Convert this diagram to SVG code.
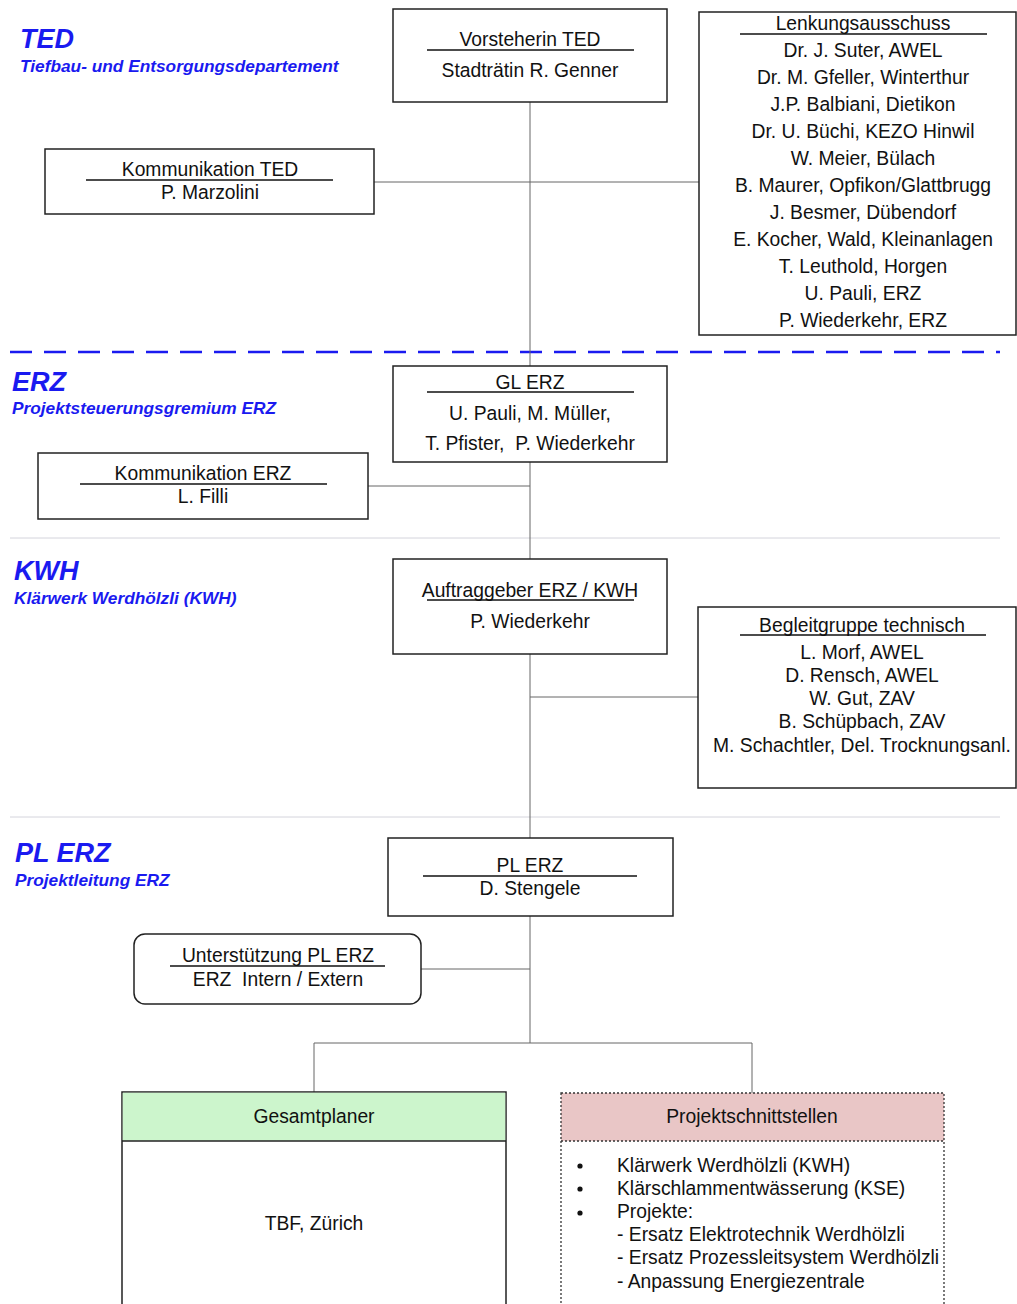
<svg xmlns="http://www.w3.org/2000/svg" width="1017" height="1304" viewBox="0 0 1017 1304">
<style>
.t{font-family:"Liberation Sans",Arial,sans-serif;font-size:19.3px;fill:#111;text-anchor:middle;white-space:pre}
.tl{font-family:"Liberation Sans",Arial,sans-serif;font-size:19.3px;fill:#111}
.h{font-family:"Liberation Sans",Arial,sans-serif;font-weight:bold;font-style:italic;font-size:27px;fill:#1a1af0}
.s{font-family:"Liberation Sans",Arial,sans-serif;font-weight:bold;font-style:italic;font-size:17.3px;fill:#1a1af0}
.box{fill:#fff;stroke:#222;stroke-width:1.5}
.ul{stroke:#111;stroke-width:1.3}
.c{stroke:#666;stroke-width:1;fill:none}
.sep{stroke:#d4d4dc;stroke-width:1}
</style>
<rect width="1017" height="1304" fill="#fff"/>
<g id="sections">
<text class="h" x="20" y="48">TED</text>
<text class="s" x="20" y="72">Tiefbau- und Entsorgungsdepartement</text>
<line x1="10" y1="352" x2="1000" y2="352" stroke="#1a1af0" stroke-width="2.5" stroke-dasharray="22 12"/>
<text class="h" x="12" y="391">ERZ</text>
<text class="s" x="12" y="414">Projektsteuerungsgremium ERZ</text>
<line class="sep" x1="10" y1="538" x2="1000" y2="538"/>
<text class="h" x="14" y="580">KWH</text>
<text class="s" x="14" y="604">Klärwerk Werdhölzli (KWH)</text>
<line class="sep" x1="10" y1="817" x2="1000" y2="817"/>
<text class="h" x="15" y="862">PL ERZ</text>
<text class="s" x="15" y="886">Projektleitung ERZ</text>
</g>
<g id="connectors">
<line class="c" x1="530" y1="102" x2="530" y2="1043"/>
<line class="c" x1="374" y1="182" x2="699" y2="182"/>
<line class="c" x1="368" y1="486" x2="530" y2="486"/>
<line class="c" x1="530" y1="697" x2="698" y2="697"/>
<line class="c" x1="421" y1="969" x2="530" y2="969"/>
<polyline class="c" points="314,1092 314,1043 752,1043 752,1093"/>
</g>
<g id="vorsteherin">
<rect class="box" x="393" y="9" width="274" height="93"/>
<text class="t" x="530" y="46">Vorsteherin TED</text>
<line class="ul" x1="427" y1="50" x2="634" y2="50"/>
<text class="t" x="530" y="77">Stadträtin R. Genner</text>
</g>
<g id="lenkungsausschuss">
<rect class="box" x="699" y="12" width="317" height="323"/>
<text class="t" x="863" y="30">Lenkungsausschuss</text>
<line class="ul" x1="740" y1="34" x2="987" y2="34"/>
<text class="t" x="863" y="57">Dr. J. Suter, AWEL</text>
<text class="t" x="863" y="84">Dr. M. Gfeller, Winterthur</text>
<text class="t" x="863" y="111">J.P. Balbiani, Dietikon</text>
<text class="t" x="863" y="138">Dr. U. Büchi, KEZO Hinwil</text>
<text class="t" x="863" y="165">W. Meier, Bülach</text>
<text class="t" x="863" y="192">B. Maurer, Opfikon/Glattbrugg</text>
<text class="t" x="863" y="219">J. Besmer, Dübendorf</text>
<text class="t" x="863" y="246">E. Kocher, Wald, Kleinanlagen</text>
<text class="t" x="863" y="273">T. Leuthold, Horgen</text>
<text class="t" x="863" y="300">U. Pauli, ERZ</text>
<text class="t" x="863" y="327">P. Wiederkehr, ERZ</text>
</g>
<g id="kommunikation-ted">
<rect class="box" x="45" y="149" width="329" height="65"/>
<text class="t" x="210" y="176">Kommunikation TED</text>
<line class="ul" x1="86" y1="180" x2="333" y2="180"/>
<text class="t" x="210" y="199">P. Marzolini</text>
</g>
<g id="gl-erz">
<rect class="box" x="393" y="366" width="274" height="96"/>
<text class="t" x="530" y="389">GL ERZ</text>
<line class="ul" x1="427" y1="392" x2="634" y2="392"/>
<text class="t" x="530" y="420">U. Pauli, M. Müller,</text>
<text class="t" x="530" y="450" xml:space="preserve">T. Pfister,  P. Wiederkehr</text>
</g>
<g id="kommunikation-erz">
<rect class="box" x="38" y="453" width="330" height="66"/>
<text class="t" x="203" y="480">Kommunikation ERZ</text>
<line class="ul" x1="80" y1="484" x2="327" y2="484"/>
<text class="t" x="203" y="503">L. Filli</text>
</g>
<g id="auftraggeber">
<rect class="box" x="393" y="559" width="274" height="95"/>
<text class="t" x="530" y="597">Auftraggeber ERZ / KWH</text>
<line class="ul" x1="427" y1="600" x2="634" y2="600"/>
<text class="t" x="530" y="628">P. Wiederkehr</text>
</g>
<g id="begleitgruppe">
<rect class="box" x="698" y="607" width="318" height="181"/>
<text class="t" x="862" y="632">Begleitgruppe technisch</text>
<line class="ul" x1="740" y1="635" x2="986" y2="635"/>
<text class="t" x="862" y="659">L. Morf, AWEL</text>
<text class="t" x="862" y="682">D. Rensch, AWEL</text>
<text class="t" x="862" y="705">W. Gut, ZAV</text>
<text class="t" x="862" y="728">B. Schüpbach, ZAV</text>
<text class="t" x="862" y="752">M. Schachtler, Del. Trocknungsanl.</text>
</g>
<g id="pl-erz">
<rect class="box" x="388" y="838" width="285" height="78"/>
<text class="t" x="530" y="872">PL ERZ</text>
<line class="ul" x1="423" y1="876" x2="637" y2="876"/>
<text class="t" x="530" y="895">D. Stengele</text>
</g>
<g id="unterstuetzung">
<rect class="box" x="134" y="934" width="287" height="70" rx="11"/>
<text class="t" x="278" y="962">Unterstützung PL ERZ</text>
<line class="ul" x1="170" y1="966" x2="385" y2="966"/>
<text class="t" x="278" y="986" xml:space="preserve">ERZ  Intern / Extern</text>
</g>
<g id="gesamtplaner">
<rect x="122" y="1092" width="384" height="230" fill="#fff" stroke="#222" stroke-width="1.5"/>
<rect x="122.75" y="1092.75" width="382.5" height="48" fill="#ccf5cc"/>
<line x1="122" y1="1141" x2="506" y2="1141" stroke="#222" stroke-width="1.5"/>
<text class="t" x="314" y="1123">Gesamtplaner</text>
<text class="t" x="314" y="1230">TBF, Zürich</text>
</g>
<g id="projektschnittstellen">
<rect x="561" y="1093" width="383" height="48" fill="#e9c6c6"/>
<rect x="561" y="1093" width="383" height="230" fill="none" stroke="#333" stroke-width="1.3" stroke-dasharray="2 2"/>
<line x1="561" y1="1141" x2="944" y2="1141" stroke="#333" stroke-width="1.3" stroke-dasharray="2 2"/>
<text class="t" x="752" y="1123">Projektschnittstellen</text>
<circle cx="580" cy="1166" r="2.6" fill="#111"/>
<circle cx="580" cy="1189" r="2.6" fill="#111"/>
<circle cx="580" cy="1213" r="2.6" fill="#111"/>
<text class="tl" x="617" y="1172">Klärwerk Werdhölzli (KWH)</text>
<text class="tl" x="617" y="1195">Klärschlammentwässerung (KSE)</text>
<text class="tl" x="617" y="1218">Projekte:</text>
<text class="tl" x="617" y="1241">- Ersatz Elektrotechnik Werdhölzli</text>
<text class="tl" x="617" y="1264">- Ersatz Prozessleitsystem Werdhölzli</text>
<text class="tl" x="617" y="1288">- Anpassung Energiezentrale</text>
</g>
</svg>
